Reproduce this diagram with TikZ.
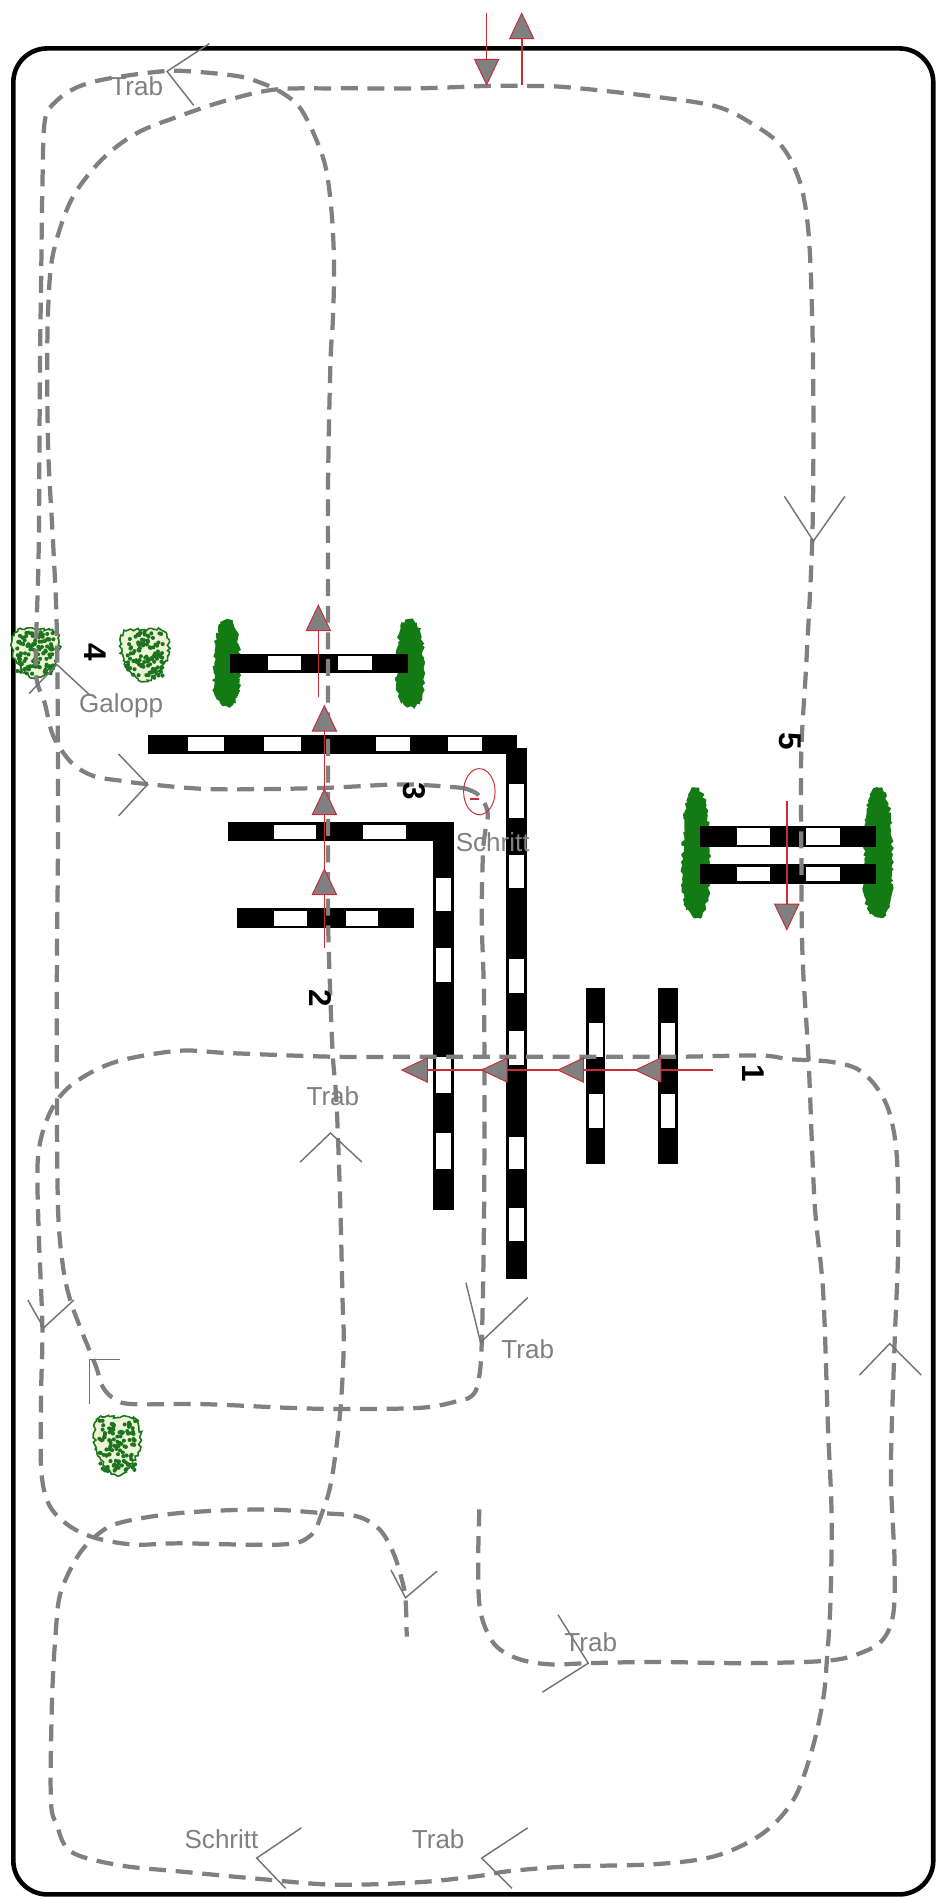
\documentclass[tikz,border=0pt]{standalone}
\usepackage{fontspec}
\setmainfont{Liberation Sans}
\usetikzlibrary{decorations.pathmorphing}
\definecolor{routegray}{RGB}{128,128,128}
\definecolor{chevgray}{RGB}{115,115,115}
\definecolor{arrred}{RGB}{200,45,55}
\definecolor{treegreen}{RGB}{20,122,20}
\definecolor{bushlight}{RGB}{236,246,214}
\definecolor{bushdark}{RGB}{30,115,30}
\newcommand\fenceh[5]{%
  \fill[black] (#1,#3) rectangle (#2,#4);
  \foreach \wa/\wb in {#5}{\fill[white] (\wa,{#3+2.2}) rectangle (\wb,{#4-2.2});}}
\newcommand\fencev[5]{%
  \fill[black] (#1,#3) rectangle (#2,#4);
  \foreach \wa/\wb in {#5}{\fill[white] ({#1+2.2},\wa) rectangle ({#2-2.2},\wb);}}
\newcommand\treeblob[4]{%
  \fill[treegreen, decorate, decoration={random steps,segment length=2.2pt,amplitude=1.4pt}]
    plot[smooth cycle, tension=0.7] coordinates {
      ({(#1+#2)/2},#3) ({#2-3},{#3+0.12*(#4-#3)}) (#2,{#3+0.45*(#4-#3)})
      ({#2-1},{#3+0.85*(#4-#3)}) ({(#1+#2)/2+2},#4) ({#1+1},{#3+0.88*(#4-#3)})
      (#1,{#3+0.5*(#4-#3)}) ({#1+3},{#3+0.1*(#4-#3)})};}
\newcommand\bushblob[4]{%
  \filldraw[fill=bushlight, draw=bushdark, line width=1.3pt, decorate,
      decoration={random steps,segment length=2pt,amplitude=1.3pt}]
    plot[smooth cycle, tension=0.6] coordinates {
      (#1,{#3+3}) ({(#1+#2)/2},#3) (#2,{#3+3}) (#2,{#3+0.6*(#4-#3)})
      ({(#1+#2)/2},#4) (#1,{#3+0.6*(#4-#3)})};
  \foreach \k in {1,...,110}{\fill[bushdark] ({#1+2+rnd*(#2-#1-4)},{#3+2+rnd*(#4-#3-5)}) circle (1.7);}}
\newcommand\triup[2]{\filldraw[tri] (#1,#2) -- ++(-10,21) -- ++(20,0) -- cycle;}
\newcommand\tridown[2]{\filldraw[tri] (#1,#2) -- ++(-10,-21) -- ++(20,0) -- cycle;}
\newcommand\trileft[2]{\filldraw[tri] (#1,#2) -- ++(21,-10) -- ++(0,20) -- cycle;}
\begin{document}
\begin{tikzpicture}[x=1pt,y=-1pt,
  route/.style={draw=routegray, line width=3.5pt, dash pattern=on 14pt off 8pt},
  chev/.style={draw=chevgray, line width=1.2pt},
  lbl/.style={text=routegray, font=\fontsize{21.5}{24}\selectfont, inner sep=0pt},
  num/.style={font=\fontsize{26}{28}\selectfont\bfseries, inner sep=0pt, rotate=-90},
  redline/.style={draw=arrred, line width=1.4pt},
  tri/.style={fill=routegray, draw=arrred, line width=0.8pt, line join=miter}]
\pgfmathsetseed{12}
\useasboundingbox (0,0) rectangle (773,1568);
\fill[white] (0,0) rectangle (773,1568);
% arena border
\draw[line width=3.8pt, rounded corners=28pt] (11,40) rectangle (771,1565);
% trees
\treeblob{177}{198}{512}{584}
\treeblob{328}{350}{512}{584}
\treeblob{564}{586}{651}{758}
\treeblob{714}{737}{651}{758}
% bushes
\bushblob{12}{47}{520}{560}
\bushblob{102}{137}{520}{563}
\bushblob{80}{114}{1171}{1219}
% fences
\fenceh{190}{337}{540}{556}{221/249,279/307}
\fenceh{122}{427}{607}{623}{155/185,218/249,311/339,370/398}
\fencev{418}{435}{618}{1057}{648/676,706/734,792/820,852/880,939/966,998/1025}
\fenceh{188}{374}{679}{695}{226/261,300/335}
\fencev{358}{375}{679}{1000}{725/753,783/811,873/903,936/966}
\fenceh{196}{342}{750}{767}{226/254,286/312}
\fencev{484}{500}{816}{962}{845/873,904/932}
\fencev{544}{560}{816}{962}{845/873,904/932}
\fenceh{578}{724}{682}{700}{609/636,666/694}
\fenceh{578}{724}{714}{730}{609/636,666/694}
% route part 1
\draw[route] plot[smooth, tension=0.55] coordinates {
 (396,1247) (395,1290) (396,1325) (401,1345) (411,1361) (430,1371) (455,1375) (486,1374)
 (542,1373) (616,1374) (683,1372) (710,1366) (729,1355) (738,1333) (739,1289) (736,1215)
 (739,1112) (742,1030) (741,957) (735,920) (724,898) (708,883) (685,877) (652,875) (628,872)
 (560,873) (490,873) (420,873) (348,873) (275,873) (190,870) (149,868) (104,875) (79,884)
 (57,898) (44,914) (35,936) (31,963) (32,1019) (35,1096) (34,1150) (34,1213) (40,1242)
 (55,1259) (77,1270) (110,1276) (148,1275) (232,1276) (256,1269) (266,1250) (274,1222)
 (281,1167) (284,1112) (283,1074) (281,991) (278,911) (275,873) (273,826) (271,760)
 (271,700) (271,600) (271,500) (271,400) (273,300) (275,264) (276,220) (274,176) (269,138)
 (259,110) (247,88) (232,76) (217,69) (197,63) (158,59) (133,59) (89,65) (64,72) (46,84)
 (37,100) (35,156) (34,230) (33,304) (32,451) (30,525) (30,560) (37,581) (44,608) (59,630)
 (77,641) (100,645) (124,648) (177,652) (265,651) (333,648) (383,651)};
% route part 2
\draw[route] plot[smooth, tension=0.55] coordinates {
 (383,651) (393,655) (400,663) (403,673) (401,686) (399,705) (398,760) (400,834) (400,991)
 (398,1109) (395,1142) (390,1153) (380,1157) (348,1163) (281,1164) (237,1163) (168,1160)
 (110,1160) (95,1156) (85,1146) (79,1128) (68,1101) (58,1074) (52,1046) (48,1000) (47,900)
 (47,800) (48,672) (47,525) (44,451) (40,377) (39,304) (40,250) (44,209) (59,165) (84,132)
 (113,110) (148,96) (187,83) (227,74) (276,73) (345,73) (402,71) (431,71) (468,72) (542,80)
 (592,88) (621,102) (646,121) (661,151) (668,193) (671,264) (672,350) (671,447) (666,550)
 (662,620) (662,700) (663,790) (668,876) (673,994) (680,1067) (684,1178) (687,1252)
 (686,1325) (683,1373) (680,1404) (671,1445) (656,1486) (631,1514) (592,1533) (542,1540)
 (468,1542) (419,1546) (394,1550) (345,1555) (276,1557) (212,1552) (148,1546) (99,1541)
 (59,1530) (47,1508) (42,1486) (43,1404) (46,1349) (50,1316) (64,1286) (79,1269) (99,1258)
 (148,1250) (217,1247) (266,1250) (296,1253) (314,1264) (325,1283) (332,1305) (335,1321)
 (336,1352)};
% volte circle
\draw[arrred, line width=0.8pt] (396,654) ellipse (13 and 19);
\draw[arrred, line width=1.5pt] (388,660) -- (396,660);
% red arrows
\draw[redline] (402,11) -- (402,51);
\tridown{402}{70}
\draw[redline] (431,28) -- (431,70);
\triup{431}{11}
\draw[redline] (263,576) -- (263,521);
\triup{263}{500}
\draw[redline] (268,783) -- (268,604);
\triup{268}{718}
\triup{268}{652}
\triup{268}{583}
\draw[redline] (650,662) -- (650,747);
\tridown{650}{768}
\draw[redline] (589,884) -- (352,884);
\trileft{332}{884}
\trileft{398}{884}
\trileft{461}{884}
\trileft{525}{884}
% direction chevrons
\draw[chev] (173,36) -- (138,59) -- (160,87);
\draw[chev] (648,410) -- (672,447) -- (698,410);
\draw[chev] (24,573) -- (47,549) -- (74,574);
\draw[chev] (98,623) -- (122,648) -- (98,674);
\draw[chev] (248,960) -- (273,936) -- (299,960);
\draw[chev] (385,1060) -- (397,1109) -- (436,1072);
\draw[chev] (99,1123) -- (74,1123) -- (74,1160);
\draw[chev] (23,1074) -- (36,1097) -- (61,1074);
\draw[chev] (710,1136) -- (735,1110) -- (761,1136);
\draw[chev] (461,1334) -- (486,1374) -- (448,1398);
\draw[chev] (436,1510) -- (398,1535) -- (423,1560);
\draw[chev] (249,1510) -- (212,1535) -- (236,1560);
\draw[chev] (323,1297) -- (335,1320) -- (361,1298);
% gait labels
\node[lbl] (t1) at (113,71) {Trab};
\node[lbl] (g1) at (100,583) {Galopp};
\node[lbl] (s1) at (407,696) {Schritt};
\node[lbl] (t2) at (275,906) {Trab};
\node[lbl] (t3) at (436,1115) {Trab};
\node[lbl] (t4) at (488,1357) {Trab};
\node[lbl] (s2) at (183,1519) {Schritt};
\node[lbl] (t5) at (362,1519) {Trab};
% jump numbers
\node[num] (n1) at (622,887) {1};
\node[num] (n2) at (265,825) {2};
\node[num] (n3) at (342,654) {3};
\node[num] (n4) at (79,539) {4};
\node[num] (n5) at (653,612) {5};
\end{tikzpicture}
\end{document}
